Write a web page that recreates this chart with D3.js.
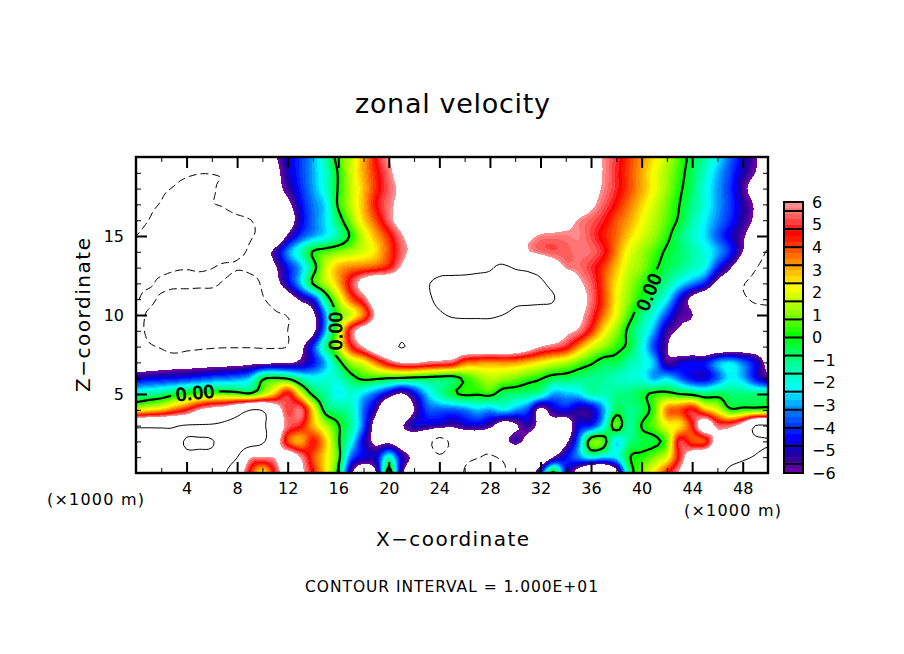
<!DOCTYPE html>
<html><head><meta charset="utf-8">
<script src="https://cdn.jsdelivr.net/npm/d3@7"></script>
<style>html,body{margin:0;background:#fff}svg{display:block}text{font-family:"DejaVu Sans",sans-serif;fill:#000}</style>
</head><body><svg id="c" width="904" height="654"></svg>
<script>
const z20=[-7,-7,-7,-7,-7,-7,-7,-7,-7,-7,
 -7,-6.2,-4.8,-3.9,-2.9,-1.4,.5,1.7,3.1,4.7,
 6,7,7.5,7.5,7.5,7.5,7.5,7.5,7.5,7.5,
 7.5,7.5,7.5,7.5,7.5,7.5,6.8,5.9,5,4.1,
 3.3,2.5,1.6,.6,-.4,-1.3,-2.3,-3.5,-4.6,-5.8,-7];
const z19=[-8,-8.5,-9,-9.3,-9.6,-9.9,-9.9,-9.7,-9,-8,
 -7.2,-6.6,-5,-3.9,-2.9,-1.7,.1,1.8,3.1,4.4,
 5.6,7,8,8.5,8.5,8.5,8.5,8.5,8.5,8.5,
 8.5,8.5,8.5,8.5,8,7.5,6.9,5.9,4.9,4,
 3.1,2.2,1.3,.4,-.6,-1.7,-2.8,-3.8,-5,-6,-7];
const z18=[-8.8,-9.2,-9.7,-10.1,-10.5,-10.6,-10.2,-9.5,-8.8,-8,
 -7.4,-6.8,-5.4,-4.1,-3,-1.8,.1,1.6,2.9,4.3,
 5.4,6.4,7.5,8.5,8.5,8.5,8.5,8.5,8.5,8.5,
 8.5,8.5,8.5,8.5,8,7.5,6.7,5.8,4.9,4,
 3.1,2.2,1.2,.2,-.7,-2,-3,-4,-5.5,-6.8,-8];
const z17=[-9.2,-9.7,-10.1,-10.8,-11,-10.8,-10.1,-9.8,-9,-8.3,
 -7.8,-7.3,-6.5,-4.5,-3.3,-2.4,.2,1.6,3,4.6,
 5.6,6.6,7.5,8.5,8.5,8.5,8.5,8.5,8.5,8.5,
 8.5,8.5,8.5,8.5,8,7.5,6.4,5.4,4.5,3.6,
 2.7,1.8,.9,0,-1,-2,-3,-3.9,-5.1,-6.2,-7.5];
const z16=[-9.6,-10,-10.6,-11,-11,-11,-11,-10.8,-10.5,-10.1,
 -9.2,-8.5,-7.5,-4.8,-3.4,-2.4,-.6,1.1,2.7,4,
 5.5,6.8,7.5,8,8.5,8.5,8.5,8.5,8.5,8.5,
 8.5,8.5,8,7.5,6.8,5.9,5.4,4.8,3.9,3.2,
 2.3,1.5,.7,-.2,-1.3,-2.3,-3.2,-4.1,-5.2,-6.3,-7.5];
const z15=[-10,-10.5,-11,-11,-11,-11,-11,-11,-10.8,-10.2,
 -9.5,-8.5,-5.7,-3.9,-3,-2.3,-1.2,.2,1.8,3.1,
 4.3,5.8,7,8,8.5,8.5,8.5,8.5,8.5,8,
 7,6.5,5.8,5.7,5.7,5.8,5.2,4.4,3.7,2.7,
 1.9,1.2,.3,-.8,-1.7,-2.5,-3.6,-4.7,-5.8,-7,-8.5];
const z14=[-10.4,-11,-11,-11,-11,-11,-11,-11,-10.3,-9.7,
 -7.5,-5.4,-3.2,-1.6,.1,.6,1,1.4,1.9,2.6,
 4,5.4,6.6,7.5,8.5,9,9.5,9.5,9.5,9,
 8,6.2,5.6,5.3,5.4,5.6,5.5,4.8,3.4,2.1,
 1.3,.6,-.2,-.7,-1.3,-2,-2.9,-4.1,-6,-8,-10.3];
const z13=[-10.8,-10.7,-10.5,-10.2,-10.1,-10.2,-10.05,-9.7,-9.9,-9.7,
 -9,-6.3,-4.3,-2.9,-.6,1.7,3,3.5,3.7,4,
 4.6,6.2,8,9,9.5,9.6,9.7,9.8,9.9,10.2,
 9.9,9.6,9,7.5,5.9,5.6,5,4.1,2.9,1.7,
 1.1,.2,-.5,-1,-1.6,-2.2,-4.1,-5.8,-7.8,-9.8,-11];
const z12=[-10.3,-10.2,-9.7,-9.6,-9.6,-9.7,-9.7,-10.2,-10.8,-10.6,
 -9.7,-7,-4.7,-2.7,.1,1.5,3,5,6.8,8,
 8,8,8.5,9.8,10.3,10.4,10.4,10.4,10.4,10.4,
 10.4,10.4,10.3,9.4,8.5,6.4,5.4,3.9,2.5,1.3,
 .5,-.3,-1.2,-2.3,-3.2,-4.2,-6.6,-8,-9.8,-10.6,-10.8];
const z11=[-10.1,-9.7,-10.3,-11,-11,-11,-11,-11,-11,-11,
 -10.2,-9,-7.6,-5.6,-4.3,-1,1.6,3.8,5.3,7.5,
 8,8.5,9,9.6,10.5,11,11,11,11,10.8,
 10.3,10.3,10.3,10.1,9,7,5.6,4.1,2.3,1.1,
 0,-1.1,-2.3,-4.5,-6.5,-8,-9,-9.5,-9.8,-10.2,-10.3];
const z10=[-9.6,-10.2,-11,-11,-11,-11,-11,-11,-11,-11,
 -11,-10.3,-9.9,-8.8,-6.5,-3,.6,1.8,3.5,6.3,
 7.5,8,8.5,9,9.7,10.2,10.3,10.3,10.3,10,
 9.6,9.4,9.2,9,8,6.6,5.2,3.6,2.1,.5,
 -.9,-2.1,-3.8,-5.5,-5.9,-8.2,-9,-9.2,-9.3,-9.4,-9.5];
const z9=[-9.5,-10.3,-11,-11,-11,-11,-11,-11,-11,-11,
 -11,-10.8,-10,-8.5,-6.6,-2.8,1.3,5.2,6.9,7.6,
 7.8,8,8.5,8.8,8.8,8.8,8.8,8.8,8.8,8.7,
 8.6,8.5,8.4,8,6.5,5.8,4.3,2.5,1.2,-.3,
 -1.6,-3,-5.3,-6.2,-7,-8,-8.6,-8.8,-8.9,-9,-9];
const z8=[-9,-9.7,-10.3,-11.5,-10.8,-10.5,-10.3,-10.2,-10.2,-10.2,
 -10.3,-10.3,-9.9,-6.8,-4,-1.1,1.6,4.4,6.1,7.6,
 8.5,10.2,8.8,8,8,8,8,8,8,8,
 7.8,7,6,5.5,4.9,3.4,2,1.2,.4,-.3,
 -1.9,-3.9,-5.8,-7.5,-8,-8.3,-8,-7.8,-7.5,-7.5,-7.5];
const z7=[-7.8,-7.6,-7.4,-7.3,-7.2,-7.1,-7,-6.9,-6.8,-6.6,
 -6.5,-6.4,-6.3,-5.6,-4.4,-2.8,-.5,1.4,2.1,3.7,
 5.2,6.1,6.2,5.8,5.6,5.3,3.8,3.5,3.3,3.4,
 3.3,2.9,2.4,1.9,1.5,.8,.2,-.5,-.5,-1.3,
 -1.9,-2.8,-5.5,-4.9,-4.4,-4.4,-3,-2.5,-3.4,-4.6,-6.5];
const z6=[-4.8,-4.6,-4.5,-4.4,-4.2,-3.9,-3.6,-3.4,-3.2,-2.6,
 -.3,.1,-.2,-1.4,-2.1,-1.9,-1.7,-.5,.3,.2,
 0,-.1,-.3,-.4,-.5,-.6,.3,1,1.6,1.3,
 1,.5,.1,-.5,-.6,-.9,-1.1,-1.2,-1.6,-1.8,
 -2,-3,-2.5,-3.5,-4.5,-4.7,-3.6,-2.3,-2.8,-4.4,-5.5];
const z5=[-1.5,-1.2,-.9,-.3,.3,.6,.8,.8,.6,.2,
 1.5,3,4.8,2.2,-.3,-1.2,-2.3,-1.8,-2.6,-3.6,
 -5,-6.2,-4.6,-2.7,-1.3,-.3,.2,.1,.3,-.6,
 -.8,-1,-1.4,-3,-2.8,-2.5,-1.4,-1.5,-1,-.9,
 -.4,.3,.4,0,-.3,-.8,-.5,-.8,-.9,-.9,-.9];
const z4=[2,2.4,2.8,3.7,4.6,6,6.8,7.3,8.5,9.9,
 9.8,7.5,5,5.6,2.6,-.5,-1,-1.5,-3.5,-5.5,
 -9,-8.5,-6,-3.8,-3.6,-3.6,-3.3,-2.7,-3,-2.3,
 -3,-3.8,-6.5,-5,-4.4,-5.2,-5,-3,-.6,-1.1,
 -.6,.6,3.5,4,4.8,3,2,.2,.4,.5,.6];
const z3=[9.6,9.6,9.6,9.6,10.3,10.4,10.5,10.8,11,11,
 10.5,8,5.5,4.8,3,1.5,.1,-1.2,-3.6,-7,
 -9,-6.3,-4.8,-5,-5.2,-5.6,-5,-4.8,-5.5,-7,
 -6.3,-5.2,-6.5,-7,-7.5,-4.6,-4.2,-2.2,.8,-1.3,
 .05,.8,2.2,2.5,4.5,7.5,5.5,5.5,7,10,10.2];
const z2=[10.6,10.8,10.8,12,22,22,21,14,12,11.5,
 10.5,7.5,4,3,4.5,2.8,.2,-2,-4.7,-6.5,
 -6.5,-7.3,-8,-9,-11,-9.5,-9,-8.8,-8.8,-7,
 -5.4,-6.8,-8.5,-8.5,-6.5,-3.4,.8,.6,-2.5,-1,
 -.5,-.3,.8,5,4,4,7,8,8.8,9.5,9.8];
const z1=[12,12,13,14,16,16,16,12,10.1,6.3,
 6,6.1,7.5,6,4,2.5,.5,-3.5,-4.6,-4.7,
 -1.8,-4.8,-6.5,-8,-9.5,-8.5,-9.5,-9.9,-10.2,-9.7,
 -9,-8.5,-8.5,-6,-4.4,-3.2,-2,-2.5,-2.3,-.1,
 .3,1,2,4.8,7.5,8.5,8.8,9.4,9.8,10.1,10.5];
const z0=[12,12,12,12,12,12,11.5,10.3,7.5,4.5,
 2.3,4.8,7.5,6.5,4.5,2.5,-.2,-5.5,-8,-6,
 .7,-5.3,-8,-9,-5.8,-7.5,-10.2,-11,-11,-10.3,
 -9,-8,-4.2,.3,-4.3,-7,-9.9,-9.9,-7,-1,
 .9,2.5,4.3,6.2,8,9,9.5,10.3,10.5,10.5,10.5];
const rows=[z20,z19,z18,z17,z16,z15,z14,z13,z12,z11,z10,z9,z8,z7,z6,z5,z4,z3,z2,z1,z0];

const xMajor=[4,8,12,16,20,24,28,32,36,40,44,48];
const xMinor=[2,6,10,14,18,22,26,30,34,38,42,46,50];
const zMajor=[5,10,15];
const zMinor=[1,2,3,4,6,7,8,9,11,12,13,14,16,17,18,19];
const colorStops=[-6,-5.2,-4.4,-3.3,-2.3,-1,0.1,1.2,2.3,3.4,4.6,5.3,6];
const colorValues=["#7a00aa","#220099","#0000ff","#0077ff","#00ffff","#00ff88","#00ff00","#99ff00","#ffff00","#ff8800","#ff0000","#ff5555","#ff9999"];
const barLabels=[6,5,4,3,2,1,0,-1,-2,-3,-4,-5,-6];
const barDividers=d3.range(-5.6,5.7,0.8);
const lineLabels=[{t:"0.00",x:195,y:393,r:-6},{t:"0.00",x:336,y:331,r:-90},{t:"0.00",x:649,y:292,r:-68}];

const svg=d3.select("#c");
const X=d3.scaleLinear([0,50],[136,768]);
const Z=d3.scaleLinear([0,20],[473,157]);
const color=d3.scaleLinear(colorStops,colorValues);

// refine the hand-read grid (cubic through the read values) for smooth contour bands
const K=4,nx=rows[0].length,ny=rows.length,W=(nx-1)*K+1,H=(ny-1)*K+1;
const cr=(a,b,c,d,t)=>b+.5*t*(c-a+t*(2*a-5*b+4*c-d+t*(3*(b-c)+d-a)));
const at=(j,i)=>rows[Math.max(0,Math.min(ny-1,j))][Math.max(0,Math.min(nx-1,i))];
const fine=new Float64Array(W*H);
for(let j=0;j<H;j++)for(let i=0;i<W;i++){
 const a=Math.min(Math.floor(i/K),nx-2),b=Math.min(Math.floor(j/K),ny-2),u=i/K-a,v=j/K-b;
 const q=[-1,0,1,2].map(dj=>cr(at(b+dj,a-1),at(b+dj,a),at(b+dj,a+1),at(b+dj,a+2),u));
 fine[j*W+i]=cr(q[0],q[1],q[2],q[3],v);
}
const geo=d3.geoPath(d3.geoTransform({point(x,y){this.stream.point(X((x-.5)/K),Z(20-(y-.5)/K));}}));
const contours=d3.contours().size([W,H]).smooth(true);

svg.append("defs").append("clipPath").attr("id","plot").append("rect")
 .attr("x",136).attr("y",157).attr("width",632).attr("height",316);
const mask=svg.select("defs").append("mask").attr("id","gaps").attr("maskUnits","userSpaceOnUse")
 .attr("x",0).attr("y",0).attr("width",904).attr("height",654);
mask.append("rect").attr("width",904).attr("height",654).attr("fill","#fff");
mask.selectAll("rect.g").data(lineLabels).join("rect").attr("class","g")
 .attr("x",-24).attr("y",-10).attr("width",48).attr("height",20).attr("fill","#000")
 .attr("transform",d=>`translate(${d.x},${d.y}) rotate(${d.r})`);

const plot=svg.append("g").attr("clip-path","url(#plot)");
const levels=d3.range(-6,6.01,0.25);
plot.selectAll("path.band").data(levels).join("path").attr("class","band")
 .attr("d",t=>geo(contours.contour(fine,t)))
 .attr("fill",t=>t>=6?"#fff":color(t+0.125)).attr("shape-rendering","crispEdges");

const lines=plot.append("g").attr("fill","none").attr("stroke","#000").attr("mask","url(#gaps)");
[{v:-10,w:1,d:"8,4"},{v:10,w:1,d:null},{v:20,w:1,d:null},{v:0,w:2.2,d:null}].forEach(l=>{
 lines.append("path").attr("d",geo(contours.contour(fine,l.v))).attr("stroke-width",l.w).attr("stroke-dasharray",l.d);
});
svg.selectAll("text.lab").data(lineLabels).join("text").attr("class","lab")
 .attr("transform",d=>`translate(${d.x},${d.y}) rotate(${d.r})`)
 .attr("text-anchor","middle").attr("dy","0.36em").attr("font-size",17.5).attr("stroke","#000").attr("stroke-width",.8)
 .text(d=>d.t);

const frame=[
 [()=>d3.axisBottom(X),`translate(0,473)`,xMinor,xMajor],
 [()=>d3.axisTop(X),`translate(0,157)`,xMinor,xMajor],
 [()=>d3.axisLeft(Z),`translate(136,0)`,zMinor,zMajor],
 [()=>d3.axisRight(Z),`translate(768,0)`,zMinor,zMajor]];
frame.forEach(([ax,tr,mi,ma])=>{
 const g1=svg.append("g").attr("transform",tr).call(ax().tickValues(mi).tickSize(-5).tickFormat(""));
 const g2=svg.append("g").attr("transform",tr).call(ax().tickValues(ma).tickSize(-11).tickFormat(""));
 g1.select(".domain").remove();g2.select(".domain").remove();
 g1.selectAll("line").attr("stroke-width",1);g2.selectAll("line").attr("stroke-width",2);
});
svg.append("rect").attr("x",136).attr("y",157).attr("width",632).attr("height",316)
 .attr("fill","none").attr("stroke","#000").attr("stroke-width",2.4);

const xl=svg.append("g").attr("transform","translate(0,473)").call(d3.axisBottom(X).tickValues(xMajor).tickSize(0).tickPadding(10).tickFormat(d3.format("d")));
const zl=svg.append("g").attr("transform","translate(136,0)").call(d3.axisLeft(Z).tickValues(zMajor).tickSize(0).tickPadding(12).tickFormat(d3.format("d")));
[xl,zl].forEach(g=>{g.select(".domain").remove();g.selectAll("text").attr("font-size",16).attr("font-family","DejaVu Sans");});

function label(t,x,y,fs,len,rot){
 const e=svg.append("text").attr("text-anchor","middle").attr("font-size",fs).text(t)
  .attr("textLength",len).attr("lengthAdjust","spacing");
 e.attr("transform",`translate(${x},${y})`+(rot?` rotate(${rot})`:""));
}
label("zonal velocity",452.5,113,27,195);
label("X\u2212coordinate",452.5,546,20,153);
label("Z\u2212coordinate",90,315,20,154,-90);
label("CONTOUR INTERVAL = 1.000E+01",451.5,592,15.5,293);
label("(\u00d71000 m)",95.5,505,16,97);
label("(\u00d71000 m)",732.5,516,16,97);

// colour bar
const B=d3.scaleLinear([-6,6],[473,202]);
const bar=svg.append("g");
bar.selectAll("rect").data(levels.slice(0,-1)).join("rect")
 .attr("x",784).attr("width",19).attr("y",t=>B(t+.25)).attr("height",t=>B(t)-B(t+.25)+.5)
 .attr("fill",t=>color(t+.125)).attr("shape-rendering","crispEdges");
bar.selectAll("line").data(barDividers).join("line").attr("x1",784).attr("x2",803)
 .attr("y1",B).attr("y2",B).attr("stroke","#000").attr("stroke-width",2);
bar.append("rect").attr("x",784).attr("y",202).attr("width",19).attr("height",271)
 .attr("fill","none").attr("stroke","#000").attr("stroke-width",2);
bar.selectAll("text").data(barLabels).join("text").attr("x",812).attr("y",B).attr("dy","0.36em")
 .attr("font-size",16).text(d=>d<0?"\u2212"+(-d):d);
</script></body></html>
